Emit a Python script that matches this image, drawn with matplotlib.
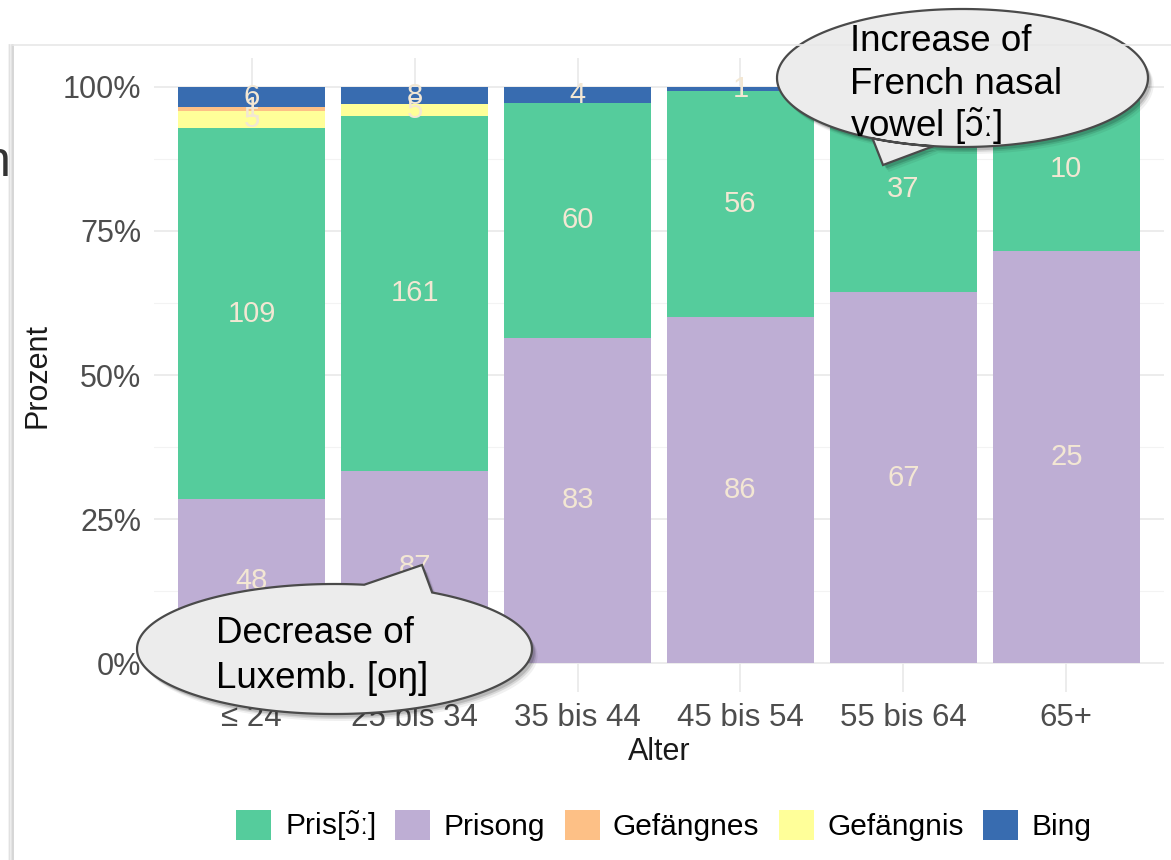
import matplotlib
matplotlib.use('Agg')
import matplotlib.pyplot as plt
import numpy as np
from matplotlib.path import Path
from matplotlib.patches import PathPatch

plt.rcParams['font.family'] = ['Liberation Sans', 'DejaVu Sans']
plt.rcParams['mathtext.fontset'] = 'custom'
plt.rcParams['mathtext.rm'] = 'Liberation Sans'
plt.rcParams['mathtext.it'] = 'Liberation Sans:italic'
plt.rcParams['mathtext.bf'] = 'Liberation Sans:bold'
plt.rcParams['mathtext.fallback'] = 'stixsans'

# ---- data ----
ages = ['≤ 24', '25 bis 34', '35 bis 44', '45 bis 54', '55 bis 64', '65+']
prisong = [48, 87, 83, 86, 67, 25]
pris = [109, 161, 60, 56, 37, 10]
gefaengnis = [5, 5, 0, 0, 0, 0]
gefaengnes = [1, 0, 0, 0, 0, 0]
bing = [6, 8, 4, 1, 0, 0]
y_ticks = [0, 25, 50, 75, 100]
y_ticklabels = ['0%', '25%', '50%', '75%', '100%']

PRIS = r'Pris[$\tilde{\mathrm{ɔ}}$ː]'
series_names = ['Prisong', PRIS, 'Gefängnis', 'Gefängnes', 'Bing']
series_vals = [prisong, pris, gefaengnis, gefaengnes, bing]
series_cols = ['#BEAED4', '#55CC9C', '#FFFF99', '#FDC086', '#386CB0']
legend_order = [PRIS, 'Prisong', 'Gefängnes', 'Gefängnis', 'Bing']

W, H = 1171, 860
fig = plt.figure(figsize=(W / 100, H / 100), dpi=100)
ax = fig.add_axes([154 / W, 1 - 692 / H, (1164 - 154) / W, (692 - 58) / H])

totals = np.sum(np.array(series_vals, dtype=float), axis=0)
x = np.arange(len(ages))
bottom = np.zeros(len(ages))
handles = {}
label_col = '#F3E7D3'
for name, vals, col in zip(series_names, series_vals, series_cols):
    v = np.array(vals, dtype=float)
    pct = v / totals * 100
    bc = ax.bar(x, pct, 0.9, bottom=bottom, color=col, zorder=2, label=name)
    handles[name] = bc
    for i in range(len(x)):
        if vals[i] > 0:
            ax.text(x[i], bottom[i] + pct[i] / 2, str(vals[i]), ha='center', va='center',
                    color=label_col, fontsize=21, zorder=3)
    bottom += pct

ax.set_xlim(-0.6, len(ages) - 0.4)
ax.set_ylim(-5, 105)
ax.set_xticks(x)
ax.set_xticklabels(ages)
ax.set_yticks(y_ticks)
ax.set_yticklabels(y_ticklabels)
ax.set_yticks([12.5, 37.5, 62.5, 87.5], minor=True)
ax.grid(which='major', color='#EBEBEB', lw=1.3)
ax.grid(which='minor', axis='y', color='#F3F3F3', lw=0.8)
ax.set_axisbelow(True)
for s in ax.spines.values():
    s.set_visible(False)
ax.tick_params(which='both', length=0, labelcolor='#4D4D4D')
ax.tick_params(axis='y', pad=9, labelsize=22)
ax.tick_params(axis='x', pad=8, labelsize=22.5)
ax.set_facecolor('none')

fig.legend([handles[n] for n in legend_order], legend_order, loc='center',
           bbox_to_anchor=(664 / W, 1 - 826 / H), ncol=5, frameon=False,
           fontsize=21.5, handlelength=1.17, handleheight=1.17,
           handletextpad=0.45, columnspacing=0.65)

# ---- overlay in pixel coordinates ----
ov = fig.add_axes([0, 0, 1, 1], zorder=10)
ov.set_xlim(0, W)
ov.set_ylim(H, 0)
ov.axis('off')
ov.patch.set_alpha(0)

ov.text(38, 375, 'Prozent', rotation=90, ha='center', va='center', fontsize=22, color='#1A1A1A')
ov.text(659, 752, 'Alter', ha='center', va='center', fontsize=22, color='#1A1A1A')

# slide frame
for k, a in enumerate([0.05, 0.08, 0.12]):
    ov.plot([9 + k * 1.3, 9 + k * 1.3], [45, H], color='black', alpha=a, lw=1.3)
ov.plot([13, 13], [45, H], color='#D6D6D6', lw=1.4)
ov.plot([13, W], [45, 45], color='#E8E8E8', lw=1.2)
ov.text(11, 176, 'n', ha='right', va='baseline', fontsize=36, color='#333333')


def bubble_path(cx, cy, a, b, th1, th2, tip):
    ths = np.radians(np.linspace(th2, th1 + 360, 200))
    pts = [(cx + a * np.cos(t), cy + b * np.sin(t)) for t in ths]
    pts.append(tip)
    pts.append(pts[0])
    codes = [Path.MOVETO] + [Path.LINETO] * (len(pts) - 2) + [Path.CLOSEPOLY]
    return np.array(pts), codes


def draw_bubble(cx, cy, a, b, th1, th2, tip):
    pts, codes = bubble_path(cx, cy, a, b, th1, th2, tip)
    for off, al in [(7, 0.06), (5, 0.10), (3.5, 0.14)]:
        ov.add_patch(PathPatch(Path(pts + np.array([off * 0.8, off]), codes),
                               facecolor='black', edgecolor='none', alpha=al))
    ov.add_patch(PathPatch(Path(pts, codes), facecolor='#ECECEC', edgecolor='#4A4A4A', lw=1.6))


def ang(cx, cy, a, b, px, py):
    return np.degrees(np.arctan2((py - cy) / b, (px - cx) / a))


# bubble 1 (bottom left)
c1 = (334.5, 649, 197.5, 65)
draw_bubble(*c1, ang(*c1, 365, 583), ang(*c1, 433, 592), (422, 565))
ov.text(216, 643, 'Decrease of', fontsize=26.5, va='baseline', ha='left', color='black')
ov.text(216, 688, 'Luxemb. [oŋ]', fontsize=26.5, va='baseline', ha='left', color='black')

# bubble 2 (top right)
c2 = (962.5, 78, 185.5, 69)
draw_bubble(*c2, ang(*c2, 870, 140), ang(*c2, 933, 147), (883, 165))
ov.text(850, 51, 'Increase of', fontsize=26.5, va='baseline', ha='left', color='black')
ov.text(850, 94, 'French nasal', fontsize=26.5, va='baseline', ha='left', color='black')
ov.text(850, 137, r'vowel [$\tilde{\mathrm{ɔ}}$ː]', fontsize=26.5, va='baseline', ha='left', color='black')

fig.savefig('out.png', dpi=100)
